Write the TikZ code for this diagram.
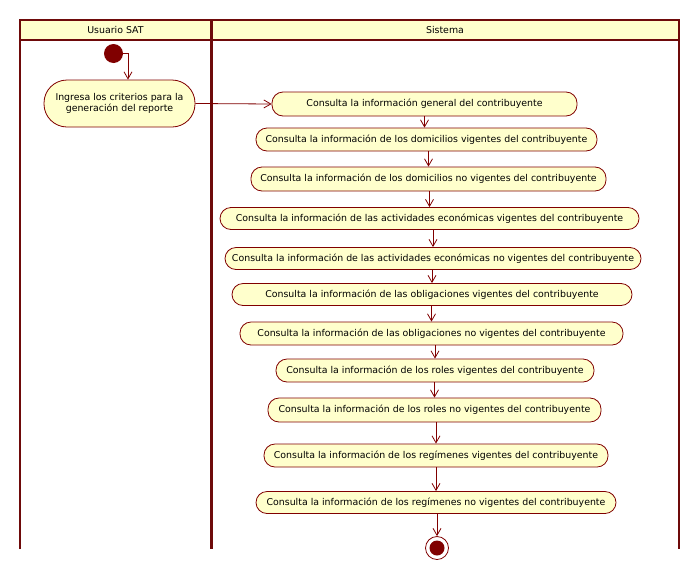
\documentclass[tikz,border=0pt]{standalone}
\usepackage{fontspec}
\setmainfont{DejaVu Sans}
\usetikzlibrary{arrows.meta}
\definecolor{umlred}{RGB}{128,0,0}
\definecolor{lanered}{RGB}{110,10,10}
\definecolor{umlfill}{RGB}{255,255,204}
\begin{document}
\begin{tikzpicture}[x=1pt,y=-1pt,
  act/.style={draw=umlred,fill=umlfill,line width=0.8pt,rounded corners=11pt,inner sep=0pt,font=\fontsize{9.4}{11}\selectfont},
  lane/.style={draw=lanered,line width=2pt},
  arr/.style={draw=umlred,line width=0.8pt,-{Straight Barb[length=7pt,width=8pt]}},
  hdr/.style={font=\fontsize{9.4}{11}\selectfont}]
\useasboundingbox (0,0) rectangle (700,581);
% swimlanes
\fill[umlfill] (20,20) rectangle (679,40);
\draw[lane] (20,549) -- (20,20) -- (679,20) -- (679,549);
\draw[lane] (20,40) -- (679,40);
\draw[lanered,line width=3pt] (211,20) -- (211,549);
\node[hdr] (h1) at (115.5,30) {Usuario SAT};
\node[hdr] (h2) at (445,30) {Sistema};
% start
\node[circle,fill=umlred,minimum size=19pt,inner sep=0pt] (start) at (113.5,53.5) {};
\node[act,rounded corners=23pt,minimum width=151pt,minimum height=47pt,align=center] (ing) at (119.5,103.5) {Ingresa los criterios para la\\generación del reporte};
\node[act,minimum width=305pt,minimum height=24pt] (n1) at (424.5,104) {Consulta la información general del contribuyente};
\node[act,minimum width=341pt,minimum height=23pt] (n2) at (426.5,139.5) {Consulta la información de los domicilios vigentes del contribuyente};
\node[act,minimum width=355pt,minimum height=24pt] (n3) at (428.5,179) {Consulta la información de los domicilios no vigentes del contribuyente};
\node[act,minimum width=419pt,minimum height=22pt] (n4) at (429.5,218.5) {Consulta la información de las actividades económicas vigentes del contribuyente};
\node[act,minimum width=416pt,minimum height=22pt] (n5) at (433,258.5) {Consulta la información de las actividades económicas no vigentes del contribuyente};
\node[act,minimum width=400pt,minimum height=22pt] (n6) at (432,294.5) {Consulta la información de las obligaciones vigentes del contribuyente};
\node[act,minimum width=383pt,minimum height=23pt] (n7) at (431.5,333.5) {Consulta la información de las obligaciones no vigentes del contribuyente};
\node[act,minimum width=318pt,minimum height=23pt] (n8) at (435,370.5) {Consulta la información de los roles vigentes del contribuyente};
\node[act,minimum width=333pt,minimum height=24pt] (n9) at (434.5,410) {Consulta la información de los roles no vigentes del contribuyente};
\node[act,minimum width=344pt,minimum height=23pt] (n10) at (436,455.5) {Consulta la información de los regímenes vigentes del contribuyente};
\node[act,minimum width=360pt,minimum height=22pt] (n11) at (436,502.5) {Consulta la información de los regímenes no vigentes del contribuyente};
% end
\node[circle,draw=umlred,fill=white,line width=0.8pt,minimum size=23pt,inner sep=0pt] (end) at (437,548) {};
\node[circle,fill=umlred,minimum size=15pt,inner sep=0pt] (endin) at (end.center) {};
% connectors
\draw[arr] (start.east) -| (ing.north -| 128,0);
\draw[arr] (ing.east) -- (n1.west);
\draw[arr] (n1.south) -- (n1.south |- n2.north);
\draw[arr] (n2.south -| n3) -- (n3.north);
\draw[arr] (n3.south -| n4) -- (n4.north);
\draw[arr] (n4.south -| n5) -- (n5.north);
\draw[arr] (n5.south -| n6) -- (n6.north);
\draw[arr] (n6.south -| n7) -- (n7.north);
\draw[arr] (n7.south -| n8) -- (n8.north);
\draw[arr] (n8.south -| n9) -- (n9.north);
\draw[arr] (n9.south -| n10) -- (n10.north);
\draw[arr] (n10.south -| n11) -- (n11.north);
\draw[arr] (n11.south -| end) -- (end.north);
\end{tikzpicture}
\end{document}
